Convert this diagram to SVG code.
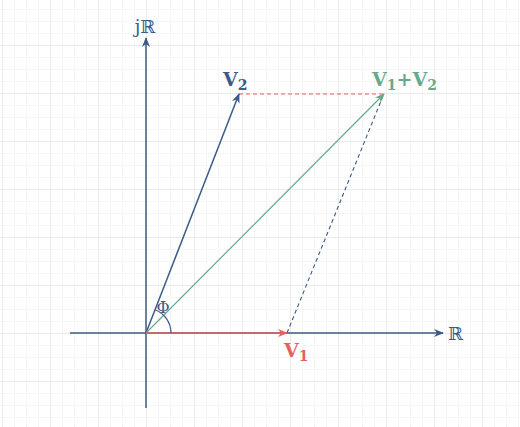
<svg xmlns="http://www.w3.org/2000/svg" width="520" height="427" viewBox="0 0 520 427">
<defs>
<pattern id="minor" patternUnits="userSpaceOnUse" x="2" y="9" width="12" height="12">
<path d="M0,0.5 H12 M0.5,0 V12" fill="none" stroke="#f6f6f6" stroke-width="1"/>
</pattern>
<pattern id="major" patternUnits="userSpaceOnUse" x="2" y="45" width="48" height="48">
<path d="M0,0.5 H48 M0.5,0 V48" fill="none" stroke="#ebebeb" stroke-width="1"/>
</pattern>
<marker id="ab" viewBox="0 0 10 8" refX="9" refY="4" markerWidth="10" markerHeight="8" markerUnits="userSpaceOnUse" orient="auto">
<path d="M0,0 L10,4 L0,8 L3,4 z" fill="#3d5a87"/>
</marker>
<marker id="ar" viewBox="0 0 10 8" refX="9" refY="4" markerWidth="10" markerHeight="8" markerUnits="userSpaceOnUse" orient="auto">
<path d="M0,0 L10,4 L0,8 L3,4 z" fill="#e85f5f"/>
</marker>
<marker id="ag" viewBox="0 0 10 8" refX="9" refY="4" markerWidth="10" markerHeight="8" markerUnits="userSpaceOnUse" orient="auto">
<path d="M0,0 L10,4 L0,8 L3,4 z" fill="#67a98c"/>
</marker>
<style>
.t{font-family:"DejaVu Serif","Liberation Serif",serif;}
.lbl{font-size:19px;font-weight:bold;}
.sub{font-size:14px;}
</style>
</defs>
<rect width="520" height="427" fill="#ffffff"/>
<rect width="520" height="427" fill="url(#minor)"/>
<rect width="520" height="427" fill="url(#major)"/>
<g id="connectors" fill="none">
<line x1="70" y1="333" x2="443" y2="333" stroke="#3d5a87" stroke-width="1.5" marker-end="url(#ab)"/>
<line x1="146" y1="408" x2="146" y2="38" stroke="#3d5a87" stroke-width="1.5" marker-end="url(#ab)"/>
<line x1="239" y1="94" x2="384" y2="94" stroke="#e85f5f" stroke-width="1" stroke-dasharray="4 3"/>
<line x1="287" y1="333" x2="383" y2="96" stroke="#3d5a87" stroke-width="1.1" stroke-dasharray="4 3"/>
<line x1="146" y1="333" x2="239" y2="94" stroke="#3d5a87" stroke-width="1.5" marker-end="url(#ab)"/>
<line x1="146" y1="333" x2="384" y2="94" stroke="#67a98c" stroke-width="1.2" marker-end="url(#ag)"/>
<line x1="146" y1="333" x2="287" y2="333" stroke="#e85f5f" stroke-width="1.5" marker-end="url(#ar)"/>
<path d="M171,333 A25,25 0 0 0 155.1,309.7" stroke="#3d5a87" stroke-width="1.2"/>
</g>
<g id="axis-labels" class="t" fill="#3d5a87">
<text x="145" y="33" font-size="18" text-anchor="middle">jℝ</text>
<text x="448" y="340" font-size="18">ℝ</text>
<text x="163" y="313" font-size="16" text-anchor="middle">Φ</text>
</g>
<g id="v2" class="t lbl" fill="#3d5a87">
<text x="223" y="86">V<tspan class="sub" dy="4">2</tspan></text>
</g>
<g id="v1" class="t lbl" fill="#e85f5f">
<text x="284" y="357">V<tspan class="sub" dy="4">1</tspan></text>
</g>
<g id="sum" class="t lbl" fill="#67a98c">
<text x="372" y="86">V<tspan class="sub" dy="4">1</tspan><tspan dy="-4">+V</tspan><tspan class="sub" dy="4">2</tspan></text>
</g>
</svg>
